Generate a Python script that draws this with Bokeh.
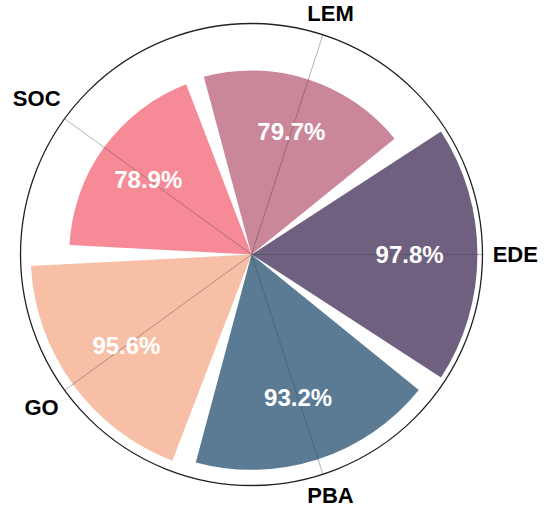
import numpy as np
from bokeh.plotting import figure
from bokeh.models import ColumnDataSource
from bokeh.core.properties import value
from bokeh.embed import file_html
from bokeh.resources import INLINE

# Data (counter-clockwise from east)
categories = ["EDE", "LEM", "SOC", "GO", "PBA"]
scores = [97.8, 79.7, 78.9, 95.6, 93.2]
colors = ["#6f6080", "#c98799", "#f68b97", "#f7bfa6", "#5b7b95"]
r_max = 100

n = len(categories)
step = 2 * np.pi / n
theta = np.arange(n) * step
half_w = np.deg2rad(33)

W, H = 539, 507
cxp, cyp = 251, 254
scale = 2.31  # px per data unit

# category label placement: outside the circle, by text box extent
font_px = 22
pad_px = 9
half_h = 15
ext = []
for c, t in zip(categories, theta):
    hw = 0.72 * font_px * len(c) / 2
    ca, sa = abs(np.cos(t)), abs(np.sin(t))
    e = min(hw / ca if ca > 1e-6 else 1e9, half_h / sa if sa > 1e-6 else 1e9)
    ext.append(e)
r_lab = (r_max * scale + pad_px + np.array(ext)) / scale
lab_x = r_lab * np.cos(theta)
lab_y = np.clip(r_lab * np.sin(theta),
                -(H - cyp - 12.5) / scale, (cyp - 12.5) / scale)

src = ColumnDataSource(dict(
    cat=categories,
    val=scores,
    color=colors,
    start=theta - half_w,
    end=theta + half_w,
    tx=0.7 * np.array(scores) * np.cos(theta),
    ty=0.7 * np.array(scores) * np.sin(theta),
    lab=[f"{v:.1f}%" for v in scores],
    gx=r_max * np.cos(theta),
    gy=r_max * np.sin(theta),
    cx=lab_x,
    cy=lab_y,
))

p = figure(width=W, height=H,
           x_range=(-cxp / scale, (W - cxp) / scale),
           y_range=(-(H - cyp) / scale, cyp / scale),
           output_backend="svg", toolbar_location=None, min_border=0)
p.axis.visible = False
p.grid.visible = False
p.outline_line_color = None

p.wedge(x=0, y=0, radius="val", start_angle="start", end_angle="end",
        fill_color="color", line_color=None, source=src)
p.segment(x0=0, y0=0, x1="gx", y1="gy", line_color="#444444",
          line_alpha=0.4, line_width=1, source=src)
p.circle(x=0, y=0, radius=r_max, fill_color=None, line_color="#222222",
         line_width=1.3)

p.text(x="tx", y="ty", text="lab", text_color="white",
       text_font=value("Liberation Sans"), text_font_style="bold",
       text_font_size="24px", text_align="center", text_baseline="middle",
       source=src)
p.text(x="cx", y="cy", text="cat", text_color="black",
       text_font=value("Liberation Sans"), text_font_style="bold",
       text_font_size=f"{font_px}px", text_align="center",
       text_baseline="middle", source=src)

open("out.html", "w").write(file_html(p, INLINE))
